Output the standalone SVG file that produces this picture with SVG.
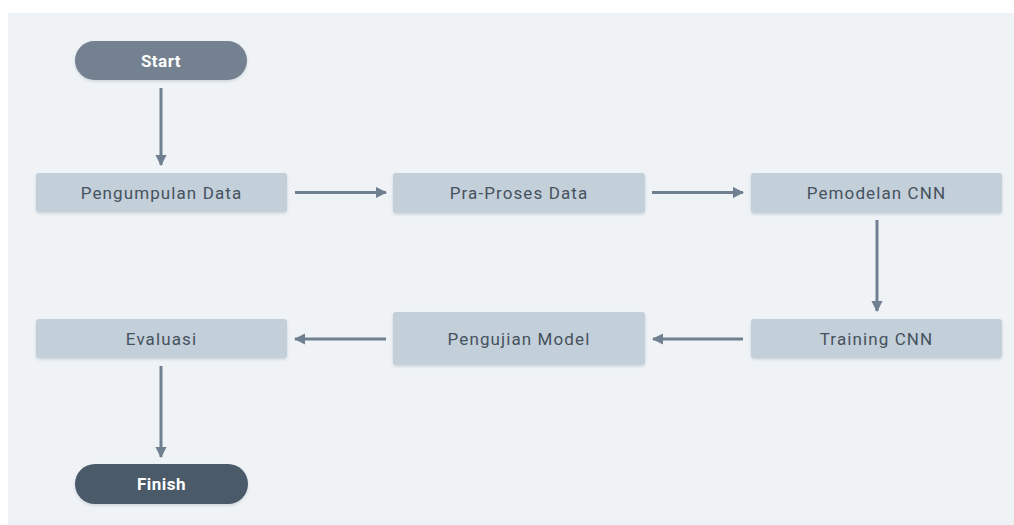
<svg xmlns="http://www.w3.org/2000/svg" width="1014" height="525" viewBox="0 0 1014 525">
  <defs>
    <filter id="sh" x="-10%" y="-30%" width="120%" height="160%">
      <feDropShadow dx="0" dy="1.5" stdDeviation="1.5" flood-color="#8a97a5" flood-opacity="0.35"/>
    </filter>
    <marker id="ah" viewBox="0 0 10 10" refX="9" refY="5" markerWidth="3.7" markerHeight="3.7" markerUnits="strokeWidth" orient="auto">
      <path d="M0,0 L10,5 L0,10 Z" fill="#718090"/>
    </marker>
  </defs>
  <style>
    .box { fill: #c3cfd9; filter: url(#sh); }
    .lbl { font-family: Roboto, "Liberation Sans", sans-serif; font-size: 17px; font-weight: normal; fill: #46525e; text-anchor: middle; letter-spacing: 1.1px; }
    .term { font-family: Roboto, "Liberation Sans", sans-serif; font-size: 17px; font-weight: bold; fill: #ffffff; text-anchor: middle; letter-spacing: 0.5px; }
    .edge { stroke: #718090; stroke-width: 3; fill: none; marker-end: url(#ah); }
  </style>
  <rect x="0" y="0" width="1014" height="525" fill="#ffffff"/>
  <rect x="8" y="13" width="1006" height="512" fill="#eff3f6"/>

  <g id="connectors">
    <line class="edge" x1="161" y1="88" x2="161" y2="165"/>
    <line class="edge" x1="295" y1="192.5" x2="386" y2="192.5"/>
    <line class="edge" x1="652" y1="192.5" x2="743" y2="192.5"/>
    <line class="edge" x1="877" y1="220" x2="877" y2="311"/>
    <line class="edge" x1="743" y1="339" x2="653" y2="339"/>
    <line class="edge" x1="386" y1="339" x2="295" y2="339"/>
    <line class="edge" x1="161" y1="366" x2="161" y2="457"/>
  </g>

  <g id="start">
    <rect x="75" y="41" width="172" height="39" rx="19.5" fill="#738190" filter="url(#sh)"/>
    <text class="term" x="161" y="67">Start</text>
  </g>
  <g id="pengumpulan">
    <rect class="box" x="36" y="173" width="251" height="39" rx="3"/>
    <text class="lbl" x="161.5" y="198.5">Pengumpulan Data</text>
  </g>
  <g id="praproses">
    <rect class="box" x="393" y="173" width="252" height="40" rx="3"/>
    <text class="lbl" x="519" y="199">Pra-Proses Data</text>
  </g>
  <g id="pemodelan">
    <rect class="box" x="751" y="173" width="251" height="40" rx="3"/>
    <text class="lbl" x="876.5" y="199">Pemodelan CNN</text>
  </g>
  <g id="training">
    <rect class="box" x="751" y="319" width="251" height="39" rx="3"/>
    <text class="lbl" x="876.5" y="345">Training CNN</text>
  </g>
  <g id="pengujian">
    <rect class="box" x="393" y="312" width="252" height="53" rx="3"/>
    <text class="lbl" x="519" y="345">Pengujian Model</text>
  </g>
  <g id="evaluasi">
    <rect class="box" x="36" y="319" width="251" height="39" rx="3"/>
    <text class="lbl" x="161.5" y="345">Evaluasi</text>
  </g>
  <g id="finish">
    <rect x="75" y="464" width="173" height="40" rx="20" fill="#4b5a69" filter="url(#sh)"/>
    <text class="term" x="161.5" y="490">Finish</text>
  </g>
</svg>
